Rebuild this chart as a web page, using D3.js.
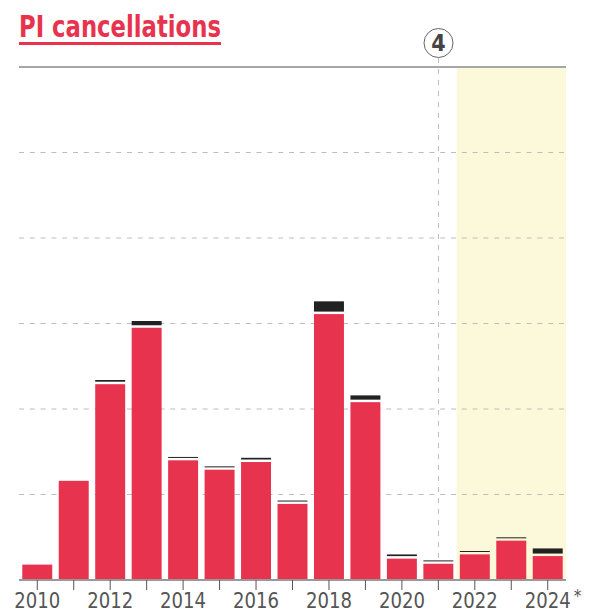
<!DOCTYPE html>
<html>
<head>
<meta charset="utf-8">
<script src="https://cdn.jsdelivr.net/npm/d3@7"></script>
<style>
  body { margin: 0; background: #fff; }
  svg { display: block; }
  text { font-family: "Liberation Sans Narrow", "DejaVu Sans Condensed", "Arial Narrow", sans-serif; }
</style>
</head>
<body>
<div id="chart"></div>
<script>
// data
var years = ["2010","2011","2012","2013","2014","2015","2016","2017","2018","2019","2020","2021","2022","2023","2024"];
var mainValues = [18, 116, 229, 295, 140, 129, 138, 89, 311, 208, 25, 19, 30, 46, 28];
var extraValues = [0, 0, 2, 5, 1, 1, 2, 1, 12, 5, 2, 1, 1, 1, 6];
var yTicks = [0, 100, 200, 300, 400, 500, 600];
var xLabels = ["2010","","2012","","2014","","2016","","2018","","2020","","2022","","2024"];
var highlightFrom = "2022";
var markerYear = "2021";
var markerText = "4";
var titleText = "PI cancellations";

var width = 591, height = 614;
var margin = {top: 67, right: 25, bottom: 34, left: 19};
var gap = 2.5;

var svg = d3.select("#chart").append("svg")
    .attr("width", width)
    .attr("height", height);

var x = d3.scaleBand()
    .domain(years)
    .range([margin.left, width - margin.right])
    .paddingInner(0.178)
    .paddingOuter(0.09);

var y = d3.scaleLinear()
    .domain([0, 600])
    .range([height - margin.bottom, margin.top]);

var red = "#e8334f";

// title
svg.append("text")
    .attr("x", margin.left)
    .attr("y", 37)
    .attr("fill", red)
    .attr("font-size", 30)
    .attr("font-weight", "bold")
    .attr("textLength", 202)
    .attr("lengthAdjust", "spacingAndGlyphs")
    .text(titleText);

svg.append("rect")
    .attr("x", margin.left)
    .attr("y", 42)
    .attr("width", 202)
    .attr("height", 3)
    .attr("fill", red);

// highlighted period
var hx = x(highlightFrom) - x.step() * x.paddingInner() / 2;
svg.append("rect")
    .attr("x", hx)
    .attr("y", y(600))
    .attr("width", x.range()[1] - hx)
    .attr("height", y(0) - y(600))
    .attr("fill", "#fcf8da");

// grid
svg.append("g")
    .selectAll("line")
    .data(yTicks.filter(function(d) { return d > 0 && d < 600; }))
    .enter().append("line")
    .attr("x1", margin.left)
    .attr("x2", width - margin.right)
    .attr("y1", function(d) { return y(d); })
    .attr("y2", function(d) { return y(d); })
    .attr("stroke", "#bdbdbd")
    .attr("stroke-width", 1.2)
    .attr("stroke-dasharray", "5,5.8");

svg.append("line")
    .attr("x1", margin.left)
    .attr("x2", width - margin.right)
    .attr("y1", y(600))
    .attr("y2", y(600))
    .attr("stroke", "#a6a6a6")
    .attr("stroke-width", 2);

// marker
var mx = Math.round(x(markerYear) + x.bandwidth() / 2) + 0.5;
svg.append("line")
    .attr("x1", mx)
    .attr("x2", mx)
    .attr("y1", 58)
    .attr("y2", y(0))
    .attr("stroke", "#bdbdbd")
    .attr("stroke-width", 1)
    .attr("stroke-dasharray", "5,6");

svg.append("circle")
    .attr("cx", mx)
    .attr("cy", 43)
    .attr("r", 14.5)
    .attr("fill", "#fff")
    .attr("stroke", "#666")
    .attr("stroke-width", 1);

svg.append("text")
    .attr("x", mx)
    .attr("y", 51)
    .attr("text-anchor", "middle")
    .attr("font-size", 23)
    .attr("font-weight", "bold")
    .attr("fill", "#444")
    .text(markerText);

// bars
var rows = years.map(function(d, i) {
    return {year: d, main: mainValues[i], extra: extraValues[i]};
});

svg.append("g")
    .selectAll("rect")
    .data(rows)
    .enter().append("rect")
    .attr("x", function(d) { return x(d.year); })
    .attr("width", x.bandwidth())
    .attr("y", function(d) { return y(d.main); })
    .attr("height", function(d) { return y(0) - y(d.main); })
    .attr("fill", red);

svg.append("g")
    .selectAll("rect")
    .data(rows.filter(function(d) { return d.extra > 0; }))
    .enter().append("rect")
    .attr("x", function(d) { return x(d.year); })
    .attr("width", x.bandwidth())
    .attr("y", function(d) { return y(d.main + d.extra) - gap; })
    .attr("height", function(d) { return Math.max(1, y(d.main) - y(d.main + d.extra)); })
    .attr("fill", "#222");

// x axis
var xAxis = svg.append("g")
    .attr("transform", "translate(0," + y(0) + ")")
    .call(d3.axisBottom(x).tickSize(10).tickSizeOuter(0).tickFormat(function(d, i) { return xLabels[i]; }));

xAxis.select(".domain")
    .attr("stroke", "#999")
    .attr("stroke-width", 2)
    .attr("d", "M" + margin.left + ",0H" + (width - margin.right));

xAxis.selectAll(".tick line")
    .attr("stroke", "#555")
    .attr("stroke-width", 1);

xAxis.selectAll(".tick text")
    .attr("fill", "#555")
    .attr("font-size", 22)
    .attr("font-family", "'Liberation Sans Narrow', 'DejaVu Sans Condensed', sans-serif")
    .attr("dy", "0")
    .attr("y", 28)
    .filter(function(d, i) { return xLabels[i] !== ""; })
    .attr("textLength", 46)
    .attr("lengthAdjust", "spacingAndGlyphs");

// asterisk on last label
var lastTick = xAxis.selectAll(".tick").filter(function(d) { return d === years[years.length - 1]; });
lastTick.append("text")
    .attr("x", 26)
    .attr("y", 22)
    .attr("fill", "#555")
    .attr("font-size", 17)
    .attr("text-anchor", "start")
    .text("*");
</script>
</body>
</html>
